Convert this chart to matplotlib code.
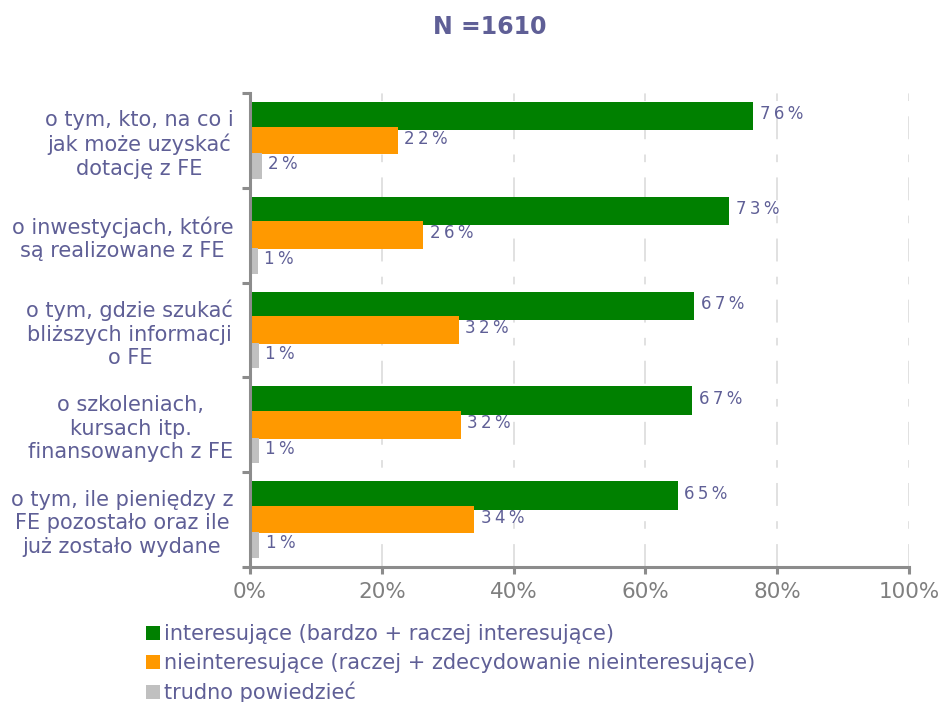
import numpy as np
import matplotlib.pyplot as plt
from matplotlib.ticker import FixedLocator, PercentFormatter

categories = ['o tym, kto, na co i\njak może uzyskać\ndotację z FE',
              'o inwestycjach, które\nsą realizowane z FE',
              'o tym, gdzie szukać\nbliższych informacji\no FE',
              'o szkoleniach,\nkursach itp.\nfinansowanych z FE',
              'o tym, ile pieniędzy z\nFE pozostało oraz ile\njuż zostało wydane']
interesting = [76.4, 72.7, 67.4, 67.1, 64.9]
not_interesting = [22.4, 26.3, 31.7, 32.0, 34.0]
hard_to_say = [1.8, 1.2, 1.3, 1.3, 1.4]
series_names = ['interesujące (bardzo + raczej interesujące)',
                'nieinteresujące (raczej + zdecydowanie nieinteresujące)',
                'trudno powiedzieć']
colors = ['#008000', '#ff9900', '#c0c0c0']
txt = '#5f5f96'
axis_gray = '#8c8c8c'

fig = plt.figure(figsize=(9.42, 7.02), dpi=100)
ax = fig.add_axes([250/942, 1-567/702, 659/942, (567-93)/702])

y = np.arange(len(categories))
offsets = [-0.255, 0.0, 0.27]
heights = [0.30, 0.29, 0.27]
bars = []
for k, (vals, off, hh, c, name) in enumerate(zip([interesting, not_interesting, hard_to_say],
                                                 offsets, heights, colors, series_names)):
    b = ax.barh(y + off, vals, height=hh, color=c, label=name, zorder=3 + k)
    bars.append(b)
    for yi, v in zip(y, vals):
        # spaced-out digits like the original
        lab = '\u2009'.join(list(f'{round(v)}%'))
        ax.text(v + 1.0, yi + off - 0.02, lab, va='center', ha='left',
                fontsize=12, color=txt, zorder=6)

ax.set_xlim(0, 100)
ax.set_ylim(len(categories) - 0.5, -0.5)
ax.set_xticks(np.arange(0, 101, 20))
ax.xaxis.set_major_formatter(PercentFormatter(decimals=0))
ax.tick_params(axis='x', colors=axis_gray, labelsize=15.5, length=5, width=2.2,
               direction='out', pad=6, labelcolor='#7f7f7f')
ax.set_yticks(y)
ax.set_yticklabels(categories, multialignment='center', fontsize=15, color=txt,
                   linespacing=1.22)
ax.tick_params(axis='y', length=0, pad=12)
ax.yaxis.set_minor_locator(FixedLocator(np.arange(-0.5, len(categories), 1)))
ax.tick_params(axis='y', which='minor', length=6, width=2.2, colors=axis_gray)

ax.grid(axis='x', color='#d9d9d9', linewidth=1.1,
        linestyle=(0, (15, 10, 5, 10)), zorder=0)
for s in ['top', 'right']:
    ax.spines[s].set_visible(False)
for s in ['left', 'bottom']:
    ax.spines[s].set_color(axis_gray)
    ax.spines[s].set_linewidth(2.2)
    ax.spines[s].set_zorder(7)

fig.text(490/942, 1-27/702, 'N =1610', ha='center', va='center',
         fontsize=17, fontweight='bold', color=txt)

leg = fig.legend(handles=bars, labels=series_names, loc='upper left',
                 bbox_to_anchor=(138/942, 1-616/702), frameon=False,
                 fontsize=15, handlelength=0.65, handleheight=0.65,
                 handletextpad=0.22, labelspacing=0.42, borderaxespad=0)
for t in leg.get_texts():
    t.set_color(txt)

fig.savefig('out.png', dpi=100)
